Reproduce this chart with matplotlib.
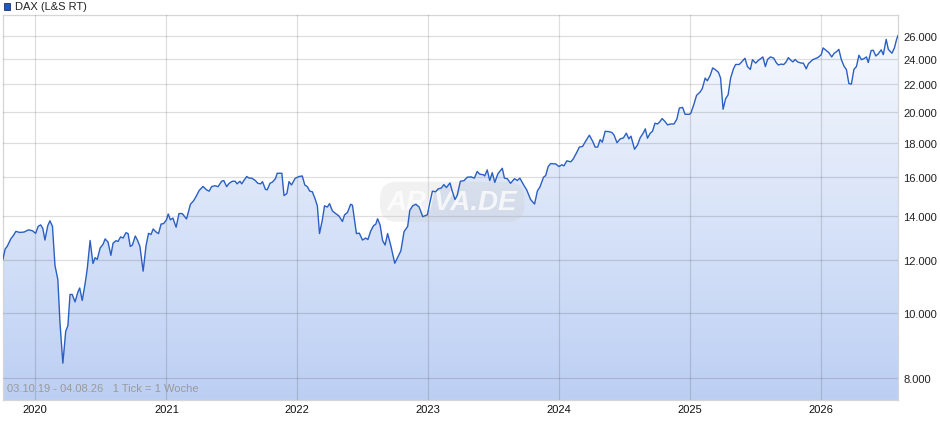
import numpy as np
import pandas as pd
import matplotlib
matplotlib.use("Agg")
import matplotlib.pyplot as plt
import matplotlib.dates as mdates
from matplotlib.colors import LinearSegmentedColormap
from matplotlib.patches import Rectangle

plt.rcParams['font.family'] = ['Liberation Sans', 'DejaVu Sans']

# DAX weekly closes
dates = [
    "2019-10-03", "2019-10-09", "2019-10-15", "2019-10-25", "2019-10-31", "2019-11-08", "2019-11-19",
    "2019-12-01", "2019-12-13", "2019-12-24",
    "2020-01-02", "2020-01-09", "2020-01-16", "2020-01-22", "2020-01-28", "2020-02-05", "2020-02-11",
    "2020-02-18", "2020-02-25", "2020-03-04", "2020-03-10", "2020-03-18", "2020-03-26", "2020-04-01",
    "2020-04-07", "2020-04-13", "2020-04-21", "2020-04-29", "2020-05-04", "2020-05-11", "2020-05-19",
    "2020-05-25", "2020-06-02", "2020-06-10", "2020-06-16", "2020-06-22", "2020-06-30", "2020-07-08",
    "2020-07-14", "2020-07-22", "2020-07-30", "2020-08-05", "2020-08-13", "2020-08-19", "2020-08-26",
    "2020-09-02", "2020-09-10", "2020-09-16", "2020-09-22", "2020-09-28", "2020-10-06", "2020-10-12",
    "2020-10-19", "2020-10-28", "2020-11-05", "2020-11-12", "2020-11-19", "2020-11-25", "2020-12-03",
    "2020-12-10", "2020-12-17", "2020-12-24",
    "2021-01-01", "2021-01-06", "2021-01-12", "2021-01-19", "2021-01-28", "2021-02-05", "2021-02-14",
    "2021-02-26", "2021-03-09", "2021-03-18", "2021-03-26", "2021-04-02", "2021-04-13", "2021-04-23",
    "2021-04-30", "2021-05-07", "2021-05-16", "2021-05-25", "2021-06-04", "2021-06-10", "2021-06-18",
    "2021-06-25", "2021-07-04", "2021-07-12", "2021-07-17", "2021-07-25", "2021-07-30", "2021-08-05",
    "2021-08-13", "2021-08-20", "2021-08-27", "2021-09-06", "2021-09-13", "2021-09-21", "2021-09-26",
    "2021-10-04", "2021-10-09", "2021-10-17", "2021-10-24", "2021-11-01", "2021-11-06", "2021-11-19",
    "2021-11-25", "2021-12-03", "2021-12-09", "2021-12-16", "2021-12-26",
    "2022-01-06", "2022-01-15", "2022-01-22", "2022-01-29", "2022-02-05", "2022-02-12", "2022-02-19",
    "2022-02-26", "2022-03-04", "2022-03-12", "2022-03-18", "2022-03-26", "2022-04-01", "2022-04-09",
    "2022-04-18", "2022-04-27", "2022-05-07", "2022-05-13", "2022-05-21", "2022-05-30", "2022-06-04",
    "2022-06-15", "2022-06-23", "2022-07-02", "2022-07-11", "2022-07-17", "2022-07-25", "2022-08-02",
    "2022-08-08", "2022-08-13", "2022-08-20", "2022-08-27", "2022-09-03", "2022-09-10", "2022-09-19",
    "2022-09-30", "2022-10-08", "2022-10-17", "2022-10-26", "2022-11-05", "2022-11-11", "2022-11-19",
    "2022-11-28", "2022-12-07", "2022-12-17", "2022-12-23", "2022-12-30",
    "2023-01-06", "2023-01-13", "2023-01-22", "2023-01-29", "2023-02-07", "2023-02-14", "2023-02-21",
    "2023-03-03", "2023-03-09", "2023-03-17", "2023-03-23", "2023-04-01", "2023-04-11", "2023-04-20",
    "2023-05-01", "2023-05-10", "2023-05-18", "2023-05-25", "2023-06-04", "2023-06-08", "2023-06-15",
    "2023-06-22", "2023-06-29", "2023-07-06", "2023-07-15", "2023-07-27", "2023-08-02", "2023-08-10",
    "2023-08-19", "2023-08-30", "2023-09-07", "2023-09-14", "2023-09-24", "2023-10-03", "2023-10-14",
    "2023-10-25", "2023-11-02", "2023-11-09", "2023-11-19", "2023-11-25", "2023-12-02", "2023-12-09",
    "2023-12-23",
    "2024-01-01", "2024-01-09", "2024-01-15", "2024-01-23", "2024-02-03", "2024-02-10", "2024-02-20",
    "2024-02-27", "2024-03-07", "2024-03-17", "2024-03-26", "2024-04-05", "2024-04-11", "2024-04-18",
    "2024-04-25", "2024-05-01", "2024-05-09", "2024-05-19", "2024-05-28", "2024-06-03", "2024-06-11",
    "2024-06-20", "2024-06-29", "2024-07-07", "2024-07-14", "2024-07-20", "2024-07-30", "2024-08-07",
    "2024-08-15", "2024-08-24", "2024-08-29", "2024-09-04", "2024-09-12", "2024-09-18", "2024-09-25",
    "2024-10-02", "2024-10-08", "2024-10-15", "2024-10-23", "2024-10-30", "2024-11-08", "2024-11-17",
    "2024-11-25", "2024-12-02", "2024-12-11", "2024-12-18", "2024-12-30",
    "2025-01-03", "2025-01-12", "2025-01-19", "2025-01-29", "2025-02-04", "2025-02-12", "2025-02-18",
    "2025-02-26", "2025-03-05", "2025-03-13", "2025-03-21", "2025-03-27", "2025-04-03", "2025-04-10",
    "2025-04-17", "2025-04-24", "2025-05-02", "2025-05-08", "2025-05-18", "2025-05-25", "2025-06-03",
    "2025-06-10", "2025-06-18", "2025-06-24", "2025-07-03", "2025-07-10", "2025-07-18", "2025-07-23",
    "2025-07-30", "2025-08-05", "2025-08-13", "2025-08-22", "2025-08-29", "2025-09-04", "2025-09-12",
    "2025-09-19", "2025-09-26", "2025-10-02", "2025-10-10", "2025-10-15", "2025-10-21", "2025-10-28",
    "2025-11-07", "2025-11-13", "2025-11-21", "2025-11-27", "2025-12-09", "2025-12-23",
    "2026-01-02", "2026-01-07", "2026-01-16", "2026-01-23", "2026-01-31", "2026-02-07", "2026-02-13",
    "2026-02-20", "2026-02-27", "2026-03-07", "2026-03-13", "2026-03-20", "2026-03-27", "2026-04-03",
    "2026-04-10", "2026-04-17", "2026-04-24", "2026-05-01", "2026-05-08", "2026-05-13", "2026-05-21",
    "2026-05-27", "2026-06-03", "2026-06-10", "2026-06-18", "2026-06-24", "2026-07-02", "2026-07-08",
    "2026-07-18", "2026-07-25", "2026-07-31", "2026-08-04",
]
values = [
    12050, 12480, 12600, 12930, 13050, 13260, 13210,
    13230, 13330, 13290,
    13170, 13490, 13560, 13400, 12870, 13530, 13750,
    13490, 11790, 11230, 9670, 8420, 9400, 9580,
    10670, 10670, 10400, 10760, 10910, 10450, 11070,
    11650, 12850, 11870, 12110, 12040, 12520, 12680,
    12920, 12780, 12210, 12730, 12840, 12810, 13010,
    12960, 13200, 13160, 12590, 12650, 13050, 12870,
    12590, 11560, 12620, 13170, 13120, 13370, 13230,
    13160, 13600, 13620,
    13800, 14080, 13800, 13880, 13450, 14100, 14100,
    13840, 14560, 14740, 15000, 15260, 15480, 15300,
    15230, 15470, 15520, 15470, 15760, 15800, 15470,
    15650, 15760, 15760, 15620, 15760, 15620, 15800,
    16020, 15930, 15930, 15800, 15650, 15620, 15740,
    15330, 15300, 15650, 15720, 15900, 16200, 16200,
    15000, 15110, 15740, 15560, 15920,
    16020, 16050, 15560, 15470, 15230, 15200, 14870,
    14480, 13160, 13800, 14480, 14420, 14590, 14230,
    14100, 13990, 13720, 14040, 14150, 14560, 14510,
    13160, 13180, 12870, 12960, 12890, 13280, 13530,
    13590, 13850, 13560, 12850, 12650, 13160, 12620,
    11880, 12120, 12400, 13250, 13490, 14260, 14480,
    14560, 14420, 13950, 13990, 14040,
    14650, 15230, 15200, 15350, 15400, 15580, 15420,
    15670, 15260, 14800, 15000, 15760, 15790, 15980,
    16000, 15930, 16300, 16150, 16120, 16050, 16390,
    15800, 16230, 15700, 16180, 16480, 15930, 15900,
    15650, 15900, 15800, 15930, 15580, 15300, 14800,
    14570, 15250, 15450, 15980, 16070, 16580, 16750,
    16730,
    16580, 16680, 16620, 16910, 16850, 17020, 17420,
    17730, 17770, 18150, 18470, 18050, 17730, 17730,
    18190, 18030, 18720, 18700, 18640, 18470, 18000,
    18240, 18300, 18600, 18240, 18410, 17600, 17850,
    18320, 18640, 18880, 18280, 18610, 18720, 19250,
    19200, 19330, 19560, 19360, 19140, 19200, 19200,
    19520, 20280, 20330, 19850, 19850,
    19920, 20580, 21190, 21440, 21690, 22490, 22280,
    22700, 23290, 23140, 22940, 22490, 20200, 20940,
    21230, 22490, 23220, 23570, 23570, 23780, 24080,
    23400, 23170, 23960, 23680, 23890, 24080, 24190,
    23400, 23980, 24190, 24100, 23730, 23530, 23600,
    23560, 23780, 24130, 23890, 23780, 23980, 23780,
    23680, 23680, 23220, 23630, 23960, 24130,
    24380, 24950, 24730, 24550, 24190, 24500, 24620,
    24830, 23960, 23400, 23170, 22070, 22030, 23170,
    23400, 24330, 23960, 24050, 24190, 23730, 24730,
    24750, 24270, 24450, 24790, 24380, 25700, 24830,
    24500, 24950, 25700, 26030,
]

y_ticks = [8000, 10000, 12000, 14000, 16000, 18000, 20000, 22000, 24000, 26000]
y_labels = ["8.000", "10.000", "12.000", "14.000", "16.000", "18.000", "20.000", "22.000", "24.000", "26.000"]
years = [2020, 2021, 2022, 2023, 2024, 2025, 2026]

x = pd.to_datetime(dates)
y = np.array(values, dtype=float)

fig = plt.figure(figsize=(9.4, 4.35), dpi=100)
ax = fig.add_axes([3 / 940, 34 / 435, 895 / 940, 385 / 435])
ax.set_yscale('log')
ymin, ymax = 7416, 27950
ax.set_ylim(ymin, ymax)
ax.set_xlim(pd.Timestamp("2019-10-03"), pd.Timestamp("2026-08-04"))

# gradient fill under the line
poly = ax.fill_between(x, y, ymin, facecolor='none', edgecolor='none')
cmap = LinearSegmentedColormap.from_list('fill', ['#bccff3', '#f8fafe'])
grad = np.linspace(0, 1, 256).reshape(-1, 1)
im = ax.imshow(grad, cmap=cmap, aspect='auto', extent=[0, 1, 0, 1],
               transform=ax.transAxes, origin='lower', zorder=1)
im.set_clip_path(poly.get_paths()[0], transform=ax.transData)

ax.plot(x, y, color='#2a5fc4', lw=1.0, zorder=4)

# grid
ax.set_yticks(y_ticks)
ax.set_yticklabels(y_labels)
ax.yaxis.set_minor_locator(matplotlib.ticker.NullLocator())
ax.set_xticks([pd.Timestamp(f"{yr}-01-01") for yr in years])
ax.set_xticklabels([str(yr) for yr in years])
ax.grid(True, color='#000000', alpha=0.13, lw=0.9, zorder=2)
ax.set_axisbelow(False)
for line in ax.get_xgridlines() + ax.get_ygridlines():
    line.set_zorder(2)

ax.yaxis.tick_right()
ax.tick_params(axis='y', length=0, pad=4, labelsize=8, colors='#222222')
ax.tick_params(axis='x', length=0, pad=3, labelsize=8, colors='#111111')
for s in ax.spines.values():
    s.set_color('#d6d6d6')
    s.set_linewidth(0.9)

# watermark
ax.text(0.502, 0.515, "ARIVA.DE", transform=ax.transAxes, ha='center', va='center',
        fontsize=20, fontweight='bold', style='italic', color='white', alpha=0.75, zorder=3,
        bbox=dict(boxstyle='round,pad=0.25,rounding_size=0.6', facecolor='#c8c8c8',
                  edgecolor='none', alpha=0.25))

ax.text(0.005, 0.018, "03.10.19 - 04.08.26   1 Tick = 1 Woche", transform=ax.transAxes,
        ha='left', va='bottom', fontsize=8, color='#9a9a9a', zorder=5)

# legend marker and label
fig.patches.append(Rectangle((4 / 940, 1 - 11 / 435), 6 / 940, 7 / 435, transform=fig.transFigure,
                             facecolor='#2257c0', edgecolor='#1a2f66', lw=0.6))
fig.text(15 / 940, 1 - 7 / 435, "DAX (L&S RT)", ha='left', va='center', fontsize=8, color='#222222')

fig.savefig("out.png", dpi=100)
